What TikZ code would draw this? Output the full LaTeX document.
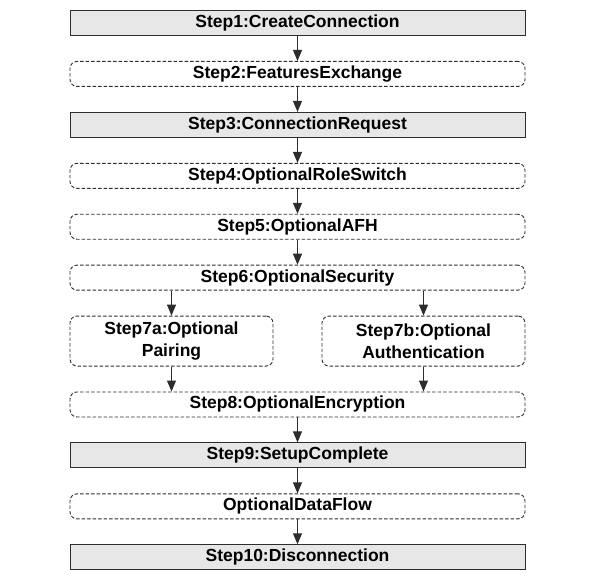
\documentclass[tikz,border=0pt]{standalone}
\usepackage{fontspec}
\setmainfont{Liberation Sans}
\usetikzlibrary{positioning}
\usetikzlibrary{arrows.meta}
\definecolor{boxgray}{RGB}{231,231,231}
\definecolor{linegray}{RGB}{45,45,45}
\tikzset{
    mainstep/.style = {rectangle, draw=linegray, fill=boxgray, line width=1pt, minimum width=455pt, minimum height=25pt, inner sep=0pt, font=\bfseries\fontsize{17.5}{22}\selectfont},
    optstep/.style = {rectangle, rounded corners=7pt, draw=linegray, line width=0.9pt, dash pattern=on 3.5pt off 2pt, minimum width=455pt, minimum height=25pt, inner sep=0pt, align=center, font=\bfseries\fontsize{17.5}{22}\selectfont},
    optsmall/.style = {optstep, minimum width=203pt, minimum height=50pt},
    flow/.style = {-{Triangle[length=11pt,width=9pt]}, line width=1pt, draw=linegray},
}

\begin{document}
\begin{tikzpicture}[x=1pt, y=1pt, node distance=25pt]
  \useasboundingbox (0,0) rectangle (590,-578);
  \node[mainstep] (s1) at (297.5,-23) {Step1:CreateConnection};
  \node[optstep, below=of s1] (s2) {Step2:FeaturesExchange};
  \node[mainstep, below=of s2] (s3) {Step3:ConnectionRequest};
  \node[optstep, below=of s3] (s4) {Step4:OptionalRoleSwitch};
  \node[optstep, below=of s4] (s5) {Step5:OptionalAFH};
  \node[optstep, below=of s5] (s6) {Step6:OptionalSecurity};
  \node[optsmall, below right=25pt and 0pt of s6.south west] (s7a) {Step7a:Optional\\Pairing};
  \node[optsmall, below left=25pt and 0pt of s6.south east] (s7b) {Step7b:Optional\\Authentication};
  \coordinate (m7) at (s7a.south -| s6.south);
  \node[optstep, below=of m7] (s8) {Step8:OptionalEncryption};
  \node[mainstep, below=of s8] (s9) {Step9:SetupComplete};
  \node[optstep, below=of s9] (df) {OptionalDataFlow};
  \node[mainstep, below=of df] (s10) {Step10:Disconnection};

  % main chain
  \draw[flow] (s1) -- (s2);
  \draw[flow] (s2) -- (s3);
  \draw[flow] (s3) -- (s4);
  \draw[flow] (s4) -- (s5);
  \draw[flow] (s5) -- (s6);
  % security branches
  \draw[flow] (s7a.north |- s6.south) -- (s7a);
  \draw[flow] (s7b.north |- s6.south) -- (s7b);
  \draw[flow] (s7a) -- (s7a.south |- s8.north);
  \draw[flow] (s7b) -- (s7b.south |- s8.north);
  \draw[flow] (s8) -- (s9);
  \draw[flow] (s9) -- (df);
  \draw[flow] (df) -- (s10);
\end{tikzpicture}
\end{document}
